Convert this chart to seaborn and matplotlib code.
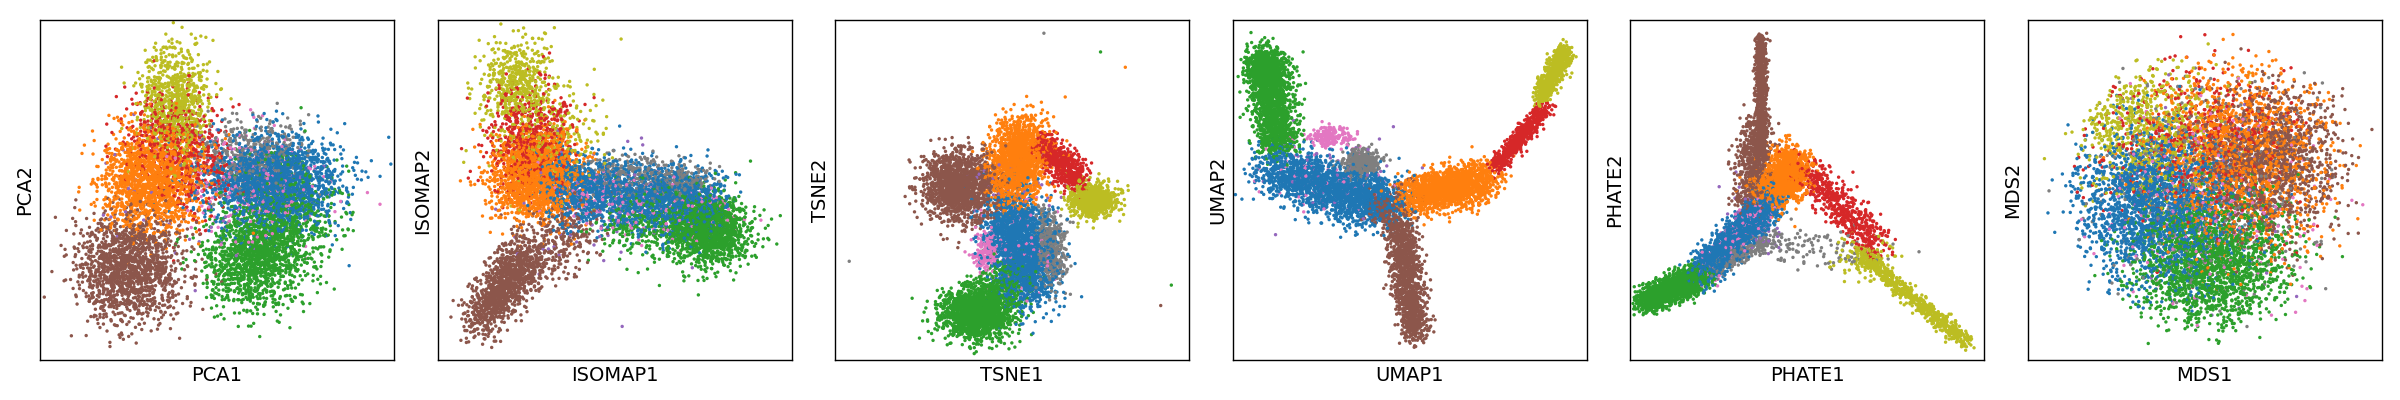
import numpy as np
import pandas as pd
import matplotlib
matplotlib.use("Agg")
import matplotlib.pyplot as plt
import seaborn as sns

# cell groups (tab10 order) and how many cells each has
groups = ["blue", "orange", "green", "red", "purple", "brown", "pink", "gray", "olive"]
group_sizes = [2200, 1700, 2000, 600, 60, 1500, 260, 420, 800]
palette = dict(zip(groups, sns.color_palette("tab10", 9)))

# shape of each group in every embedding (axes fraction):
# (group, share, x0, y0, x1, y1, sd_x, sd_y) -> points spread along x0,y0 -> x1,y1
pca_parts = [
    ("olive", 1.0, 0.38, 0.76, 0.38, 0.76, 0.05, 0.08),
    ("red", 0.6, 0.36, 0.66, 0.36, 0.66, 0.06, 0.07),
    ("red", 0.4, 0.45, 0.56, 0.45, 0.56, 0.06, 0.08),
    ("orange", 1.0, 0.32, 0.53, 0.32, 0.53, 0.07, 0.075),
    ("brown", 1.0, 0.25, 0.27, 0.25, 0.27, 0.075, 0.08),
    ("blue", 1.0, 0.66, 0.52, 0.66, 0.52, 0.09, 0.065),
    ("green", 0.6, 0.60, 0.29, 0.60, 0.29, 0.07, 0.07),
    ("green", 0.4, 0.69, 0.42, 0.69, 0.42, 0.07, 0.08),
    ("gray", 1.0, 0.58, 0.60, 0.58, 0.60, 0.08, 0.06),
    ("pink", 1.0, 0.60, 0.50, 0.60, 0.50, 0.10, 0.08),
    ("purple", 1.0, 0.45, 0.50, 0.45, 0.50, 0.15, 0.12),
]
isomap_parts = [
    ("olive", 0.6, 0.22, 0.82, 0.22, 0.82, 0.05, 0.06),
    ("olive", 0.4, 0.30, 0.68, 0.30, 0.68, 0.08, 0.08),
    ("red", 1.0, 0.26, 0.65, 0.26, 0.65, 0.06, 0.08),
    ("orange", 1.0, 0.28, 0.54, 0.28, 0.54, 0.06, 0.065),
    ("blue", 1.0, 0.33, 0.51, 0.78, 0.46, 0.035, 0.05),
    ("green", 0.7, 0.77, 0.38, 0.77, 0.38, 0.055, 0.05),
    ("green", 0.3, 0.50, 0.40, 0.80, 0.40, 0.05, 0.05),
    ("gray", 1.0, 0.45, 0.55, 0.75, 0.52, 0.03, 0.03),
    ("brown", 0.75, 0.12, 0.12, 0.25, 0.30, 0.03, 0.035),
    ("brown", 0.25, 0.25, 0.30, 0.40, 0.40, 0.05, 0.05),
    ("pink", 1.0, 0.35, 0.48, 0.80, 0.42, 0.05, 0.05),
    ("purple", 1.0, 0.45, 0.45, 0.45, 0.45, 0.15, 0.12),
]
tsne_parts = [
    ("brown", 1.0, 0.35, 0.51, 0.35, 0.51, 0.05, 0.05),
    ("orange", 1.0, 0.50, 0.50, 0.53, 0.66, 0.04, 0.045),
    ("red", 1.0, 0.59, 0.63, 0.69, 0.52, 0.022, 0.022),
    ("olive", 1.0, 0.73, 0.47, 0.73, 0.47, 0.032, 0.025),
    ("blue", 1.0, 0.50, 0.44, 0.55, 0.21, 0.045, 0.045),
    ("gray", 1.0, 0.60, 0.40, 0.62, 0.25, 0.02, 0.035),
    ("pink", 0.7, 0.43, 0.32, 0.43, 0.32, 0.02, 0.03),
    ("pink", 0.3, 0.50, 0.45, 0.55, 0.20, 0.04, 0.04),
    ("green", 0.85, 0.40, 0.14, 0.40, 0.14, 0.05, 0.038),
    ("green", 0.15, 0.42, 0.20, 0.52, 0.25, 0.03, 0.03),
    ("purple", 1.0, 0.50, 0.50, 0.50, 0.50, 0.06, 0.06),
]
umap_parts = [
    ("green", 0.7, 0.10, 0.88, 0.13, 0.62, 0.03, 0.02),
    ("green", 0.3, 0.09, 0.86, 0.09, 0.86, 0.025, 0.03),
    ("blue", 0.5, 0.11, 0.56, 0.30, 0.50, 0.04, 0.04),
    ("blue", 0.5, 0.30, 0.50, 0.43, 0.46, 0.04, 0.04),
    ("pink", 0.7, 0.28, 0.655, 0.28, 0.655, 0.03, 0.015),
    ("pink", 0.3, 0.10, 0.56, 0.40, 0.48, 0.04, 0.04),
    ("gray", 1.0, 0.363, 0.58, 0.363, 0.58, 0.025, 0.02),
    ("orange", 1.0, 0.50, 0.48, 0.72, 0.53, 0.028, 0.03),
    ("red", 1.0, 0.74, 0.56, 0.88, 0.74, 0.012, 0.012),
    ("olive", 1.0, 0.87, 0.77, 0.94, 0.91, 0.012, 0.014),
    ("brown", 0.85, 0.47, 0.40, 0.52, 0.07, 0.022, 0.015),
    ("brown", 0.15, 0.44, 0.45, 0.44, 0.45, 0.03, 0.03),
    ("purple", 1.0, 0.30, 0.55, 0.30, 0.55, 0.08, 0.06),
]
phate_parts = [
    ("brown", 0.6, 0.37, 0.95, 0.37, 0.60, 0.008, 0.01),
    ("brown", 0.4, 0.36, 0.70, 0.34, 0.45, 0.025, 0.02),
    ("orange", 0.7, 0.45, 0.55, 0.45, 0.55, 0.025, 0.035),
    ("orange", 0.3, 0.40, 0.50, 0.40, 0.50, 0.03, 0.03),
    ("red", 1.0, 0.49, 0.57, 0.70, 0.33, 0.028, 0.022),
    ("olive", 0.85, 0.65, 0.31, 0.95, 0.05, 0.012, 0.012),
    ("olive", 0.15, 0.66, 0.30, 0.66, 0.30, 0.04, 0.03),
    ("green", 1.0, 0.04, 0.17, 0.20, 0.25, 0.02, 0.018),
    ("gray", 0.7, 0.22, 0.26, 0.40, 0.36, 0.015, 0.015),
    ("gray", 0.3, 0.50, 0.33, 0.50, 0.33, 0.10, 0.03),
    ("blue", 1.0, 0.20, 0.25, 0.40, 0.47, 0.022, 0.02),
    ("pink", 1.0, 0.20, 0.25, 0.40, 0.47, 0.02, 0.02),
    ("purple", 1.0, 0.35, 0.40, 0.35, 0.40, 0.04, 0.05),
]
mds_parts = [
    ("blue", 1.0, 0.36, 0.45, 0.36, 0.45, 0.11, 0.11),
    ("green", 1.0, 0.52, 0.29, 0.52, 0.29, 0.11, 0.10),
    ("brown", 1.0, 0.68, 0.58, 0.68, 0.58, 0.10, 0.11),
    ("orange", 1.0, 0.60, 0.60, 0.60, 0.60, 0.12, 0.13),
    ("olive", 1.0, 0.33, 0.68, 0.33, 0.68, 0.10, 0.10),
    ("red", 1.0, 0.48, 0.64, 0.48, 0.64, 0.13, 0.12),
    ("pink", 1.0, 0.50, 0.45, 0.50, 0.45, 0.15, 0.15),
    ("gray", 1.0, 0.50, 0.50, 0.50, 0.50, 0.15, 0.15),
    ("purple", 1.0, 0.50, 0.50, 0.50, 0.50, 0.15, 0.15),
]
# the MDS cloud is a round disk: centre and radii (axes fraction)
mds_disk = [0.52, 0.50, 0.45, 0.46]

# stray cells far from the bulk in the t-SNE map
tsne_outlier_group = ["gray", "green", "orange", "gray", "green", "brown"]
tsne_outlier_x = [0.59, 0.75, 0.82, 0.04, 0.95, 0.92]
tsne_outlier_y = [0.96, 0.905, 0.86, 0.29, 0.22, 0.16]

panels = [
    ("PCA", pca_parts),
    ("ISOMAP", isomap_parts),
    ("TSNE", tsne_parts),
    ("UMAP", umap_parts),
    ("PHATE", phate_parts),
    ("MDS", mds_parts),
]

rng = np.random.default_rng(3)


def build_frame(parts):
    size = dict(zip(groups, group_sizes))
    rows = []
    for g, share, x0, y0, x1, y1, sx, sy in parts:
        n = int(size[g] * share)
        t = rng.uniform(0, 1, n)
        x = x0 + (x1 - x0) * t + rng.normal(0, sx, n)
        y = y0 + (y1 - y0) * t + rng.normal(0, sy, n)
        rows.append(pd.DataFrame({"x": x, "y": y, "group": g}))
    df = pd.concat(rows, ignore_index=True)
    return df.sample(frac=1, random_state=0).reset_index(drop=True)


fig, axs = plt.subplots(1, 6, figsize=(24, 4), dpi=100)
fig.subplots_adjust(left=0.0167, right=0.9923, bottom=0.1, top=0.951, wspace=0.123)

for ax, (name, parts) in zip(axs, panels):
    df = build_frame(parts)
    if name == "TSNE":
        extra = pd.DataFrame({"x": tsne_outlier_x, "y": tsne_outlier_y,
                              "group": tsne_outlier_group})
        df = pd.concat([df, extra], ignore_index=True)
    if name == "MDS":
        cx, cy, rx, ry = mds_disk
        r = ((df.x - cx) / rx) ** 2 + ((df.y - cy) / ry) ** 2
        keep = (r < 0.75) | (rng.uniform(0, 1, len(df)) < np.exp(-(r - 0.75) * 7))
        df = df[keep]
    sns.scatterplot(data=df, x="x", y="y", hue="group", palette=palette,
                    s=6, linewidth=0, legend=False, ax=ax)
    ax.set_xlim(0, 1)
    ax.set_ylim(0, 1)
    ax.set_xticks([])
    ax.set_yticks([])
    ax.set_xlabel(name + "1", fontsize=14)
    ax.set_ylabel(name + "2", fontsize=14)
    for sp in ax.spines.values():
        sp.set_color("black")
        sp.set_linewidth(1)

fig.savefig("out.png", dpi=100)
